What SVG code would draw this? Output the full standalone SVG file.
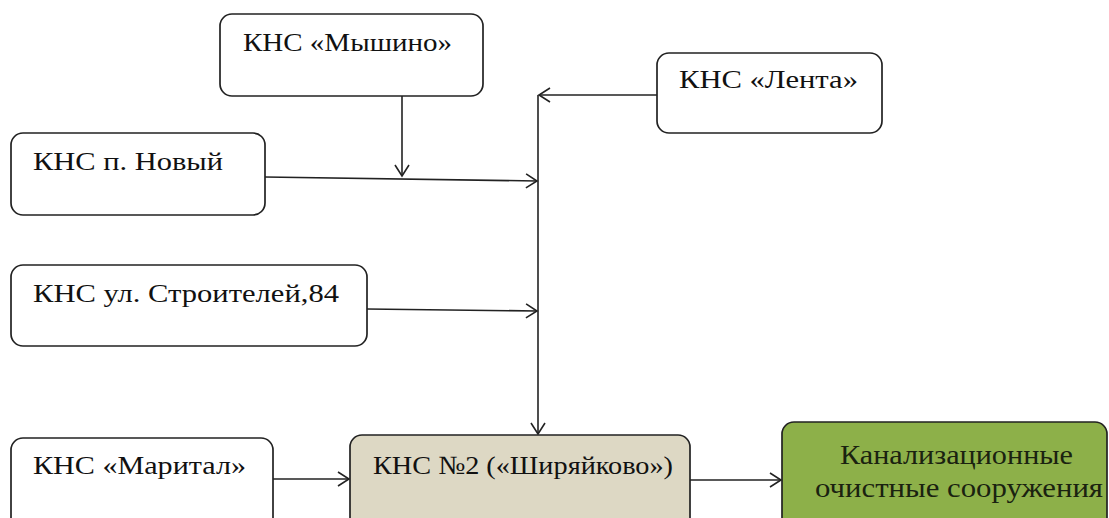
<svg xmlns="http://www.w3.org/2000/svg" width="1109" height="518" viewBox="0 0 1109 518">
<style>
.box{fill:#ffffff;stroke:#222;stroke-width:1.7}
.tan{fill:#ddd8c4;stroke:#222;stroke-width:1.7}
.green{fill:#8db049;stroke:#222;stroke-width:1.7}
.t{font-family:"Liberation Serif","Times New Roman",serif;font-size:26px;fill:#111}
.tg{font-family:"Liberation Serif","Times New Roman",serif;font-size:27px;fill:#1a2210}
.c{fill:none;stroke:#222;stroke-width:1.6}
</style>
<defs>
<marker id="arr" markerUnits="userSpaceOnUse" markerWidth="14" markerHeight="16" refX="12" refY="8" orient="auto">
<path d="M1,1 L12,8 L1,15" fill="none" stroke="#222" stroke-width="1.6"/>
</marker>
</defs>
<rect width="1109" height="518" fill="#ffffff"/>
<g id="connectors">
<line class="c" x1="402" y1="96" x2="402" y2="176" marker-end="url(#arr)"/>
<line class="c" x1="657" y1="95" x2="539" y2="95" marker-end="url(#arr)"/>
<line class="c" x1="538" y1="95" x2="538" y2="434" marker-end="url(#arr)"/>
<line class="c" x1="265" y1="177" x2="537" y2="181" marker-end="url(#arr)"/>
<line class="c" x1="367" y1="309" x2="537" y2="311" marker-end="url(#arr)"/>
<line class="c" x1="273" y1="479" x2="349" y2="479" marker-end="url(#arr)"/>
<line class="c" x1="690" y1="480" x2="781" y2="480" marker-end="url(#arr)"/>
</g>
<g id="n-myshino">
<rect class="box" x="220" y="14" width="263" height="82" rx="12"/>
<text class="t" x="243" y="51" textLength="209" lengthAdjust="spacingAndGlyphs">КНС «Мышино»</text>
</g>
<g id="n-lenta">
<rect class="box" x="657" y="53" width="225" height="80" rx="12"/>
<text class="t" x="679" y="88" textLength="179" lengthAdjust="spacingAndGlyphs">КНС «Лента»</text>
</g>
<g id="n-novy">
<rect class="box" x="11" y="133" width="254" height="82" rx="12"/>
<text class="t" x="33" y="170" textLength="190" lengthAdjust="spacingAndGlyphs">КНС п. Новый</text>
</g>
<g id="n-stroiteley">
<rect class="box" x="11" y="265" width="356" height="81" rx="12"/>
<text class="t" x="33" y="302" textLength="306" lengthAdjust="spacingAndGlyphs">КНС ул. Строителей,84</text>
</g>
<g id="n-marital">
<rect class="box" x="11" y="438" width="262" height="95" rx="12"/>
<text class="t" x="33" y="474" textLength="213" lengthAdjust="spacingAndGlyphs">КНС «Маритал»</text>
</g>
<g id="n-kns2">
<rect class="tan" x="350" y="435" width="340" height="95" rx="12"/>
<text class="t" x="373" y="474" textLength="300" lengthAdjust="spacingAndGlyphs">КНС №2 («Ширяйково»)</text>
</g>
<g id="n-kos">
<rect class="green" x="782" y="422" width="325" height="110" rx="12"/>
<text class="tg" x="840" y="464" textLength="233" lengthAdjust="spacingAndGlyphs">Канализационные</text>
<text class="tg" x="815" y="497" textLength="288" lengthAdjust="spacingAndGlyphs">очистные сооружения</text>
</g>
</svg>
